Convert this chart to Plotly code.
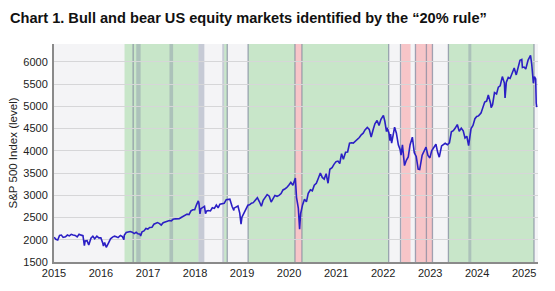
import plotly.graph_objects as go

# ---------------- data ----------------
dates = [
 "2015-01-02","2015-01-15","2015-01-30","2015-02-13","2015-02-27","2015-03-13","2015-03-31","2015-04-15","2015-04-30",
 "2015-05-15","2015-05-29","2015-06-15","2015-06-30","2015-07-15","2015-07-31","2015-08-14","2015-08-25","2015-08-31",
 "2015-09-15","2015-09-28","2015-10-15","2015-10-30","2015-11-13","2015-11-30","2015-12-15","2015-12-31",
 "2016-01-15","2016-01-20","2016-01-29","2016-02-11","2016-02-29","2016-03-15","2016-03-31","2016-04-15","2016-04-29",
 "2016-05-13","2016-05-31","2016-06-15","2016-06-27","2016-06-30","2016-07-15","2016-07-29","2016-08-15","2016-08-31",
 "2016-09-15","2016-09-30","2016-10-14","2016-10-31","2016-11-04","2016-11-15","2016-11-30","2016-12-15","2016-12-30",
 "2017-01-13","2017-01-31","2017-02-15","2017-02-28","2017-03-15","2017-03-31","2017-04-13","2017-04-28","2017-05-15",
 "2017-05-31","2017-06-15","2017-06-30","2017-07-14","2017-07-31","2017-08-15","2017-08-31","2017-09-15","2017-09-29",
 "2017-10-13","2017-10-31","2017-11-15","2017-11-30","2017-12-15","2017-12-29",
 "2018-01-12","2018-01-26","2018-01-31","2018-02-08","2018-02-15","2018-02-28","2018-03-15","2018-03-23","2018-03-30",
 "2018-04-13","2018-04-30","2018-05-15","2018-05-31","2018-06-15","2018-06-29","2018-07-13","2018-07-31","2018-08-15",
 "2018-08-31","2018-09-14","2018-09-28","2018-10-15","2018-10-29","2018-10-31","2018-11-15","2018-11-30","2018-12-14",
 "2018-12-24","2018-12-31",
 "2019-01-15","2019-01-31","2019-02-15","2019-02-28","2019-03-15","2019-03-29","2019-04-15","2019-04-30","2019-05-15",
 "2019-05-31","2019-06-14","2019-06-28","2019-07-15","2019-07-31","2019-08-15","2019-08-30","2019-09-13","2019-09-30",
 "2019-10-15","2019-10-31","2019-11-15","2019-11-29","2019-12-13","2019-12-31",
 "2020-01-15","2020-01-31","2020-02-14","2020-02-19","2020-02-28","2020-03-13","2020-03-23","2020-03-31","2020-04-15",
 "2020-04-30","2020-05-15","2020-05-29","2020-06-15","2020-06-30","2020-07-15","2020-07-31","2020-08-14","2020-08-31",
 "2020-09-15","2020-09-30","2020-10-15","2020-10-30","2020-11-13","2020-11-30","2020-12-15","2020-12-31",
 "2021-01-15","2021-01-29","2021-02-12","2021-02-26","2021-03-15","2021-03-31","2021-04-15","2021-04-30","2021-05-14",
 "2021-05-28","2021-06-15","2021-06-30","2021-07-15","2021-07-30","2021-08-13","2021-08-31","2021-09-15","2021-09-30",
 "2021-10-15","2021-10-29","2021-11-15","2021-11-30","2021-12-15","2021-12-31",
 "2022-01-03","2022-01-14","2022-01-27","2022-01-31","2022-02-15","2022-02-23","2022-02-28","2022-03-08","2022-03-15",
 "2022-03-31","2022-04-14","2022-04-29","2022-05-13","2022-05-20","2022-05-31","2022-06-16","2022-06-30","2022-07-15",
 "2022-07-29","2022-08-16","2022-08-31","2022-09-15","2022-09-30","2022-10-12","2022-10-31","2022-11-15","2022-11-30",
 "2022-12-15","2022-12-30",
 "2023-01-13","2023-01-31","2023-02-15","2023-02-28","2023-03-13","2023-03-31","2023-04-14","2023-04-28","2023-05-15",
 "2023-05-31","2023-06-15","2023-06-30","2023-07-14","2023-07-31","2023-08-15","2023-08-31","2023-09-15","2023-09-29",
 "2023-10-13","2023-10-27","2023-10-31","2023-11-15","2023-11-30","2023-12-15","2023-12-29",
 "2024-01-12","2024-01-31","2024-02-15","2024-02-29","2024-03-15","2024-03-28","2024-04-15","2024-04-19","2024-04-30",
 "2024-05-15","2024-05-31","2024-06-14","2024-06-28","2024-07-15","2024-07-31","2024-08-05","2024-08-15","2024-08-30",
 "2024-09-13","2024-09-30","2024-10-15","2024-10-31","2024-11-15","2024-11-29","2024-12-13","2024-12-18","2024-12-31",
 "2025-01-13","2025-01-31","2025-02-14","2025-02-19","2025-02-28","2025-03-13","2025-03-21","2025-03-31","2025-04-04",
 "2025-04-08",
]
spx = [
 2058,2011,1995,2097,2105,2053,2068,2106,2086,
 2122,2107,2096,2063,2124,2104,2092,1868,1973,
 1978,1881,2033,2079,2023,2080,2043,2044,
 1922,1859,1940,1829,1932,2020,2060,2081,2065,
 2047,2097,2071,2000,2099,2162,2174,2185,2171,
 2139,2168,2133,2126,2085,2180,2199,2253,2239,
 2275,2279,2349,2364,2385,2363,2329,2384,2402,
 2412,2432,2423,2459,2470,2465,2472,2500,2519,
 2553,2575,2564,2648,2675,2674,
 2786,2873,2824,2581,2698,2714,2750,2588,2641,
 2656,2648,2720,2705,2780,2718,2798,2816,2818,
 2902,2905,2914,2751,2658,2711,2730,2760,2600,
 2351,2507,
 2596,2704,2775,2784,2822,2834,2905,2946,2859,
 2752,2886,2942,3014,2980,2848,2926,2997,2977,
 2996,3038,3120,3141,3169,3231,
 3289,3226,3380,3386,2954,2711,2237,2585,2783,
 2912,2852,3044,3124,3100,3226,3271,3373,3500,
 3401,3363,3483,3270,3585,3622,3695,3756,
 3768,3714,3934,3811,3968,3973,4170,4181,4173,
 4204,4255,4298,4360,4395,4468,4523,4480,4308,
 4471,4605,4682,4567,4709,4766,
 4796,4663,4432,4516,4401,4225,4374,4173,4262,
 4530,4393,4132,4024,3901,4132,3667,3785,3863,
 4130,4305,3955,3873,3586,3577,3901,3992,4080,
 3895,3840,
 3999,4077,4147,3970,3856,4109,4137,4169,4136,
 4180,4425,4450,4505,4589,4437,4508,4450,4288,
 4327,4117,4194,4502,4568,4720,4770,
 4784,4846,5005,5096,5117,5254,5061,4967,5036,
 5308,5278,5431,5460,5667,5522,5186,5543,5648,
 5626,5762,5859,5705,5870,6032,6051,5872,5882,
 5837,6040,6114,6144,5955,5522,5668,5612,5074,
 4982,
]

bull_starts = ["2016-07-02", "2018-08-15", "2019-02-17", "2020-04-10", "2023-05-23"]
bull_ends   = ["2018-01-27", "2018-09-08", "2020-02-16", "2022-02-13", "2025-03-18"]
bear_starts = ["2020-02-16", "2022-05-22", "2022-09-09"]
bear_ends   = ["2020-04-10", "2022-08-02", "2023-01-19"]
grey_band_starts = ["2016-10-01", "2017-06-16", "2018-01-27", "2018-07-31", "2023-10-25"]
grey_band_ends   = ["2016-11-04", "2017-07-14", "2018-03-14", "2018-08-15", "2023-11-17"]
grey_lines = ["2016-09-07", "2018-09-08", "2019-02-17", "2020-02-16", "2020-04-10",
              "2022-02-13", "2022-05-16", "2022-09-09", "2022-12-03", "2023-01-19",
              "2023-05-23", "2025-03-18"]

y_ticks = [1500, 2000, 2500, 3000, 3500, 4000, 4500, 5000, 5500, 6000]

# ---------------- figure ----------------
GREEN = "#c8e6c9"
PINK = "#f7c5c8"
GREY_FILL = "rgba(130,140,165,0.40)"
GREY_LINE = "rgba(125,132,155,0.70)"

shapes = []
for s, e in zip(bull_starts, bull_ends):
    shapes.append(dict(type="rect", xref="x", yref="paper", x0=s, x1=e, y0=0, y1=1,
                       fillcolor=GREEN, line=dict(width=0), layer="below"))
for s, e in zip(bear_starts, bear_ends):
    shapes.append(dict(type="rect", xref="x", yref="paper", x0=s, x1=e, y0=0, y1=1,
                       fillcolor=PINK, line=dict(width=0), layer="below"))
for s, e in zip(grey_band_starts, grey_band_ends):
    shapes.append(dict(type="rect", xref="x", yref="paper", x0=s, x1=e, y0=0, y1=1,
                       fillcolor=GREY_FILL, line=dict(width=0), layer="below"))
for d in grey_lines:
    shapes.append(dict(type="line", xref="x", yref="paper", x0=d, x1=d, y0=0, y1=1,
                       line=dict(color=GREY_LINE, width=1.3), layer="below"))

fig = go.Figure()
fig.add_trace(go.Scatter(x=dates, y=spx, mode="lines",
                         line=dict(color="#2b1fc4", width=1.6), hoverinfo="skip"))

TICKFONT = dict(family="Liberation Sans Narrow, Arial Narrow, Liberation Sans, Arial", size=11, color="#222")

fig.update_layout(
    width=555, height=291,
    margin=dict(l=52, r=17, t=44, b=21),
    paper_bgcolor="white",
    plot_bgcolor="#f4f4f6",
    showlegend=False,
    shapes=shapes,
    title=dict(text="Chart 1. Bull and bear US equity markets identified by the \u201c20% rule\u201d",
               x=0.018, xanchor="left", y=1 - 18 / 291, yanchor="middle",
               font=dict(family="Liberation Sans, Arial", size=14.6, color="#111", weight="bold")),
    xaxis=dict(type="date", range=["2015-01-01", "2025-04-18"],
               dtick="M12", tick0="2015-01-01", tickformat="%Y",
               showgrid=False, zeroline=False, ticks="",
               showline=True, linecolor="#8a8a8a", linewidth=1.5,
               tickfont=TICKFONT),
    yaxis=dict(range=[1500, 6400], tickvals=y_ticks,
               showgrid=True, gridcolor="#d6d6d8", gridwidth=1,
               zeroline=False, ticks="", ticklabelstandoff=2,
               showline=True, linecolor="#8a8a8a", linewidth=2,
               tickfont=TICKFONT,
               title=dict(text="S&P 500 Index (level)", standoff=3,
                          font=dict(family="Liberation Sans, Arial", size=11.5, color="#222"))),
)

fig.write_html("out.html")
